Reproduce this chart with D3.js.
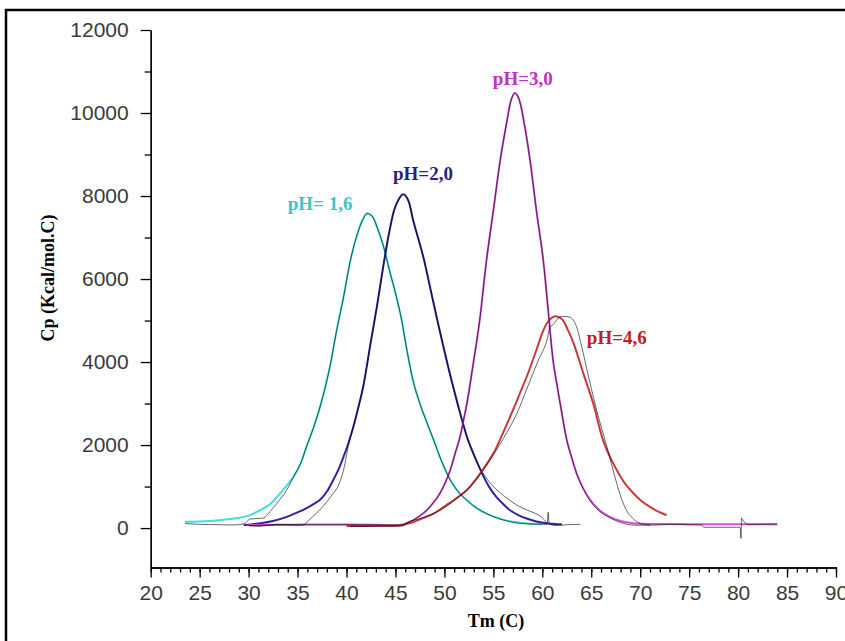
<!DOCTYPE html>
<html>
<head>
<meta charset="utf-8">
<script src="https://cdn.jsdelivr.net/npm/d3@7"></script>
<style>
    body { margin: 0; background: #fff; }
    .eje text { font-family: "Liberation Sans", Arial, sans-serif; font-size: 21px; fill: #3a3a3a; }
    .eje path, .eje line { stroke: #000; stroke-width: 1.3; }
    .titulo { font-family: "Liberation Serif", "Times New Roman", serif; font-weight: bold; font-size: 18px; fill: #000; }
    .etiqueta { font-family: "Liberation Serif", "Times New Roman", serif; font-weight: bold; font-size: 19px; }
</style>
</head>
<body>
<svg></svg>
<script>
// valores: [Tm (C), Cp (Kcal/mol.C)]
var ajuste16 = [[23.5,150],[25,160],[27,190],[28.5,230],[30,300],[31.2,430],[32.2,580],[32.9,750],[33.8,1000],[34.6,1240],[35.3,1550],[35.9,1950],[36.6,2400],[37.3,2920],[38.3,3880],[39,4770],[39.7,5570],[40.4,6450],[41,7000],[41.6,7400],[42.1,7580],[42.6,7520],[43.2,7200],[43.8,6770],[44.4,6200],[45.1,5570],[45.6,5050],[46.2,4250],[46.8,3550],[47.5,3000],[48.2,2550],[48.9,2120],[49.7,1620],[50.6,1160],[51.4,880],[52.3,670],[53.3,480],[54.3,350],[55.5,240],[57,150],[58.5,110],[60,95]];
var datos16 = [[23.5,110],[25,90],[27,80],[28.4,75],[29.5,100],[30.2,220],[31.5,240],[32.2,400],[32.9,600],[33.9,920],[34.6,1240],[35.3,1550],[35.9,1950],[36.6,2400],[37.3,2920],[38.3,3880],[39,4770],[39.7,5570],[40.4,6450],[41,7000],[41.6,7400],[42.1,7580],[42.6,7520],[43.2,7200],[43.8,6770],[44.4,6200],[45.1,5570],[45.6,5050],[46.2,4250],[46.8,3550],[47.5,3000],[48.2,2550],[48.9,2120],[49.7,1620],[50.6,1160],[51.4,880],[52.3,670],[53.3,480],[54.3,350],[55.5,230],[57,140],[58.5,100],[60.5,90]];

var ajuste20 = [[29.5,70],[31,110],[32.5,170],[33.9,270],[35,380],[35.6,440],[36.5,560],[37.3,680],[38,880],[38.65,1160],[39.2,1420],[39.7,1720],[40.2,2050],[40.7,2440],[41.2,2900],[41.7,3400],[42.4,4370],[43.1,5330],[43.8,6370],[44.4,7170],[45,7750],[45.8,8040],[46.3,7900],[46.8,7420],[47.3,7000],[47.85,6530],[48.4,5950],[48.9,5410],[49.4,4880],[49.9,4370],[50.4,3870],[50.9,3400],[51.4,2950],[51.9,2520],[52.4,2130],[52.95,1800],[53.5,1500],[54,1240],[54.6,980],[55.3,750],[56,580],[56.7,430],[57.5,320],[58.4,230],[59.4,160],[60.4,115],[61.5,95],[62,90]];
var datos20 = [[30,60],[31,40],[32,70],[33,90],[34,80],[35,70],[35.6,75],[36.2,200],[36.8,330],[37.6,520],[38.4,760],[39.3,1100],[39.8,1500],[40.2,2000],[40.7,2440],[41.2,2900],[41.7,3400],[42.4,4370],[43.1,5330],[43.8,6370],[44.4,7170],[45,7750],[45.8,8040],[46.3,7900],[46.8,7420],[47.3,7000],[47.85,6530],[48.4,5950],[48.9,5410],[49.4,4880],[49.9,4370],[50.4,3870],[50.9,3400],[51.4,2950],[51.9,2520],[52.4,2130],[52.95,1800],[53.5,1500],[54,1300],[54.8,1050],[55.6,870],[56.5,700],[57.3,570],[58,480],[58.8,400],[59.5,330],[60.2,200],[60.5,120],[60.6,380],[60.7,100],[61.5,60],[62.5,80],[63.9,90]];

var ajuste30 = [[30,70],[33,80],[36,85],[40,85],[43,80],[45.5,75],[46.5,150],[47.4,280],[48.2,430],[48.9,620],[49.55,840],[50.1,1100],[50.6,1400],[51.1,1800],[51.6,2200],[52,2650],[52.3,3000],[52.95,3970],[53.3,4500],[53.65,5090],[54.3,6450],[55,7650],[55.7,8860],[56.4,9820],[56.8,10300],[57.2,10480],[57.6,10350],[58.1,9820],[58.75,8860],[59.4,7650],[60.1,6450],[60.6,5250],[61.1,4040],[61.5,3450],[61.9,2900],[62.5,2120],[63,1700],[63.5,1320],[64.2,950],[64.9,680],[65.2,590],[66,400],[66.9,270],[68,170],[69.3,115],[71,100],[75,95],[80,95],[84,90]];
var datos30 = [[30,60],[33,75],[36,80],[40,80],[43,75],[45.5,70],[46.5,150],[47.4,280],[48.2,430],[48.9,620],[49.55,840],[50.1,1100],[50.6,1400],[51.1,1800],[51.6,2200],[52,2650],[52.3,3000],[52.95,3970],[53.3,4500],[53.65,5090],[54.3,6450],[55,7650],[55.7,8860],[56.4,9820],[56.8,10300],[57.2,10480],[57.6,10350],[58.1,9820],[58.75,8860],[59.4,7650],[60.1,6450],[60.6,5250],[61.1,4040],[61.5,3450],[61.9,2900],[62.5,2120],[63,1700],[63.5,1320],[64.2,930],[64.9,650],[65.5,480],[66.5,300],[67.5,180],[68.5,100],[69.5,70],[71,70],[73,85],[75,80],[76.3,75],[76.5,20],[80.2,20],[80.3,-250],[80.35,240],[80.6,150],[81,90],[84,95]];

var ajuste46 = [[40,50],[43,55],[45.5,70],[46.5,120],[47.5,210],[48.9,350],[50.5,600],[52.3,915],[53.7,1330],[55,1800],[56,2300],[57,2840],[57.7,3240],[58.4,3640],[59.4,4290],[60,4700],[60.45,4930],[61,5070],[61.5,5100],[62.1,5010],[62.6,4780],[63.2,4450],[64.2,3720],[65.2,3000],[66.2,2120],[66.9,1720],[67.6,1400],[68.4,1090],[69.3,840],[70.1,660],[71,510],[71.8,400],[72.7,310]];
var datos46 = [[40.4,40],[42,40],[44,45],[45.8,50],[46,110],[47.5,230],[48.9,350],[50.2,520],[51.6,780],[53,1100],[54.5,1580],[56,2150],[57.4,2760],[58.5,3400],[59.6,4050],[60.5,4550],[60.8,4850],[61.1,4900],[61.8,5090],[62.3,5100],[62.8,5080],[63.5,4850],[64,4400],[64.5,3880],[65.55,2840],[66.6,1960],[67.6,1080],[68.1,700],[68.6,430],[69.3,220],[70,110],[71,70]];

var series = ["pH= 1,6", "pH=2,0", "pH=3,0", "pH=4,6"];
var coloresAjuste = ["#40e0d8", "#3322a0", "#d850d8", "#c83a3a"];
var coloresEtiqueta = ["#3cc6c6", "#2a2080", "#c030c8", "#c02020"];
// posicion de cada etiqueta en unidades de los datos
var etiquetaT = [34.0, 44.75, 54.95, 64.55];
var etiquetaCp = [7655, 8377, 10665, 4430];

var xTicks = [20, 25, 30, 35, 40, 45, 50, 55, 60, 65, 70, 75, 80, 85, 90];
var yTicks = [0, 2000, 4000, 6000, 8000, 10000, 12000];

var ajustes = [ajuste16, ajuste20, ajuste30, ajuste46];
var datos = [datos16, datos20, datos30, datos46];

var w = 845, h = 641;

var svg = d3.select("svg")
    .attr("width", w)
    .attr("height", h);

var xScale = d3.scaleLinear().domain([20, 90]).range([150.7, 836]);
var yScale = d3.scaleLinear().domain([-950, 12000]).range([567.5, 30]);

// marco
svg.append("rect")
    .attr("x", 6).attr("y", 10)
    .attr("width", w).attr("height", h)
    .attr("fill", "none")
    .attr("stroke", "#000")
    .attr("stroke-width", 2.5);

// ejes
var xMenores = d3.range(20, 91, 1);
var yMenores = d3.range(1000, 12000, 2000);

svg.append("g")
    .attr("class", "eje")
    .attr("transform", "translate(0,567.5)")
    .call(d3.axisBottom(xScale).tickValues(xMenores).tickSize(5).tickSizeOuter(0).tickFormat(""));

svg.append("g")
    .attr("class", "eje")
    .attr("transform", "translate(0,567.5)")
    .call(d3.axisBottom(xScale).tickValues(xTicks).tickSize(10).tickSizeOuter(0).tickPadding(8).tickFormat(d3.format("d")));

svg.append("g")
    .attr("class", "eje")
    .attr("transform", "translate(150.7,0)")
    .call(d3.axisLeft(yScale).tickValues(yMenores).tickSize(6).tickSizeOuter(0).tickFormat(""));

svg.append("g")
    .attr("class", "eje")
    .attr("transform", "translate(150.7,0)")
    .call(d3.axisLeft(yScale).tickValues(yTicks).tickSize(10).tickSizeOuter(0).tickPadding(12).tickFormat(d3.format("d")));

svg.append("text")
    .attr("class", "titulo")
    .attr("text-anchor", "middle")
    .attr("x", 496)
    .attr("y", 627)
    .text("Tm (C)");

svg.append("text")
    .attr("class", "titulo")
    .attr("text-anchor", "middle")
    .attr("transform", "translate(54,278)rotate(-90)")
    .text("Cp (Kcal/mol.C)");

// curvas: ajuste en color y datos en negro encima
var lineaAjuste = d3.line()
    .x(function (d) { return xScale(d[0]); })
    .y(function (d) { return yScale(d[1]); })
    .curve(d3.curveCatmullRom.alpha(0.5));

var lineaDatos = d3.line()
    .x(function (d) { return xScale(d[0]); })
    .y(function (d) { return yScale(d[1]); })
    .curve(d3.curveMonotoneX);

ajustes.forEach(function (serie, i) {
    svg.append("path")
        .datum(serie)
        .attr("fill", "none")
        .attr("stroke", coloresAjuste[i])
        .attr("stroke-width", 2)
        .attr("d", lineaAjuste);
});

datos.forEach(function (serie, i) {
    svg.append("path")
        .datum(serie)
        .attr("fill", "none")
        .attr("stroke", "#000")
        .attr("stroke-opacity", 0.75)
        .attr("stroke-width", 0.8)
        .attr("d", lineaDatos);
});

// etiquetas
series.forEach(function (s, i) {
    svg.append("text")
        .attr("class", "etiqueta")
        .attr("x", xScale(etiquetaT[i]))
        .attr("y", yScale(etiquetaCp[i]))
        .attr("fill", coloresEtiqueta[i])
        .text(s);
});
</script>
</body>
</html>
